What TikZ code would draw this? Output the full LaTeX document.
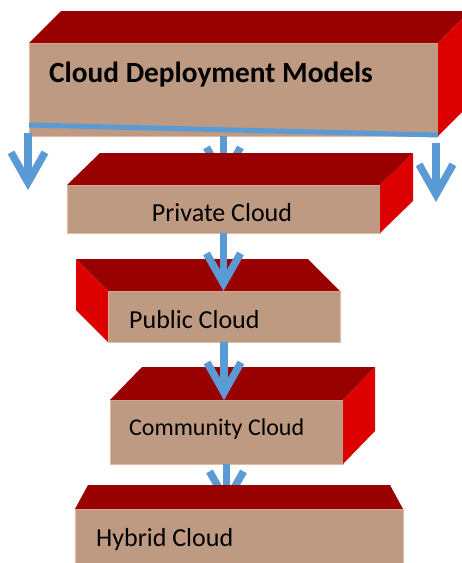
\documentclass[tikz,border=0pt]{standalone}
\usepackage{fontspec}
\setmainfont{Carlito}
\usetikzlibrary{arrows.meta}
\definecolor{topC}{RGB}{153,0,0}
\definecolor{sideC}{RGB}{221,0,0}
\definecolor{frontC}{RGB}{190,154,130}
\definecolor{edgeC}{RGB}{228,188,162}
\definecolor{blueC}{RGB}{91,155,213}
\begin{document}
\begin{tikzpicture}[x=1pt,y=-1pt,
  front/.style={fill=frontC, draw=edgeC, line width=0.8pt, rectangle, inner sep=0pt, outer sep=0pt, anchor=north west},
  topface/.style={fill=topC},
  sideface/.style={fill=sideC},
  arr/.style={draw=blueC, line width=7.5pt, -{Straight Barb[length=30pt,width=34pt]}},
  bar/.style={draw=blueC, line width=5pt},
  lbl/.style={inner sep=0pt, font=\fontsize{26}{30}\selectfont},
  titlelbl/.style={inner sep=0pt, font=\fontsize{29.3}{33}\selectfont\bfseries},
]
\useasboundingbox (0,0) rectangle (462,563);
\clip (0,0) rectangle (462,563);

% --- Cloud Deployment Models box
\node[front, minimum width=409pt, minimum height=93pt] (cdm) at (29,43) {};
\fill[topface] (cdm.north west) -- ++(32,-32) -- ++(409,0) -- (cdm.north east) -- cycle;
\fill[sideface] (cdm.north east) -- ++(32,-32) -- ++(0,93) -- (cdm.south east) -- cycle;
\node[titlelbl, anchor=base west] (cdmt) at (49,82) {Cloud Deployment Models};
\coordinate (bl) at (29,125);
\coordinate (br) at (438,135);
\draw[bar] (bl) -- (br);

% side arrows
\coordinate (la) at (28,133);
\coordinate (lb) at (28,190);
\draw[arr] (la) -- (lb);
\coordinate (ra) at (436,143);
\coordinate (rb) at (436,202);
\draw[arr] (ra) -- (rb);

% --- Private Cloud
\node[front, minimum width=313pt, minimum height=48pt] (priv) at (67,185) {};
\draw[arr] (priv.north |- cdm.south) -- (priv.north);
\fill[topface] (priv.north west) -- ++(33,-32) -- ++(313,0) -- (priv.north east) -- cycle;
\fill[sideface] (priv.north east) -- ++(33,-32) -- ++(0,48) -- (priv.south east) -- cycle;
\node[lbl, anchor=base] (privt) at (222,221) {Private Cloud};

% --- Public Cloud
\node[front, minimum width=232pt, minimum height=51pt] (pub) at (108,291) {};
\fill[topface] (pub.north west) -- ++(-32,-32) -- ++(232,0) -- (pub.north east) -- cycle;
\fill[sideface] (pub.north west) -- ++(-32,-32) -- ++(0,51) -- (pub.south west) -- cycle;
\node[lbl, anchor=base west] (pubt) at (129,328) {Public Cloud};
\draw[arr] (priv.south) -- (priv.south |- pub.north);

% --- Community Cloud
\node[front, minimum width=233pt, minimum height=64pt] (com) at (110,400) {};
\fill[topface] (com.north west) -- ++(32,-33) -- ++(233,0) -- (com.north east) -- cycle;
\fill[sideface] (com.north east) -- ++(32,-33) -- ++(0,64) -- (com.south east) -- cycle;
\node[lbl, anchor=base west, font=\fontsize{24}{28}\selectfont] (comt) at (129,435) {Community Cloud};
\draw[arr] (pub.south) -- (pub.south |- com.north);

% --- Hybrid Cloud
\node[front, minimum width=328pt, minimum height=70pt] (hyb) at (75,509) {};
\draw[arr] (com.south) -- (com.south |- hyb.north);
\fill[topface] (hyb.north west) -- ++(13,-24) -- ++(302,0) -- (hyb.north east) -- cycle;
\node[lbl, anchor=base west] (hybt) at (96,546) {Hybrid Cloud};
\end{tikzpicture}
\end{document}
